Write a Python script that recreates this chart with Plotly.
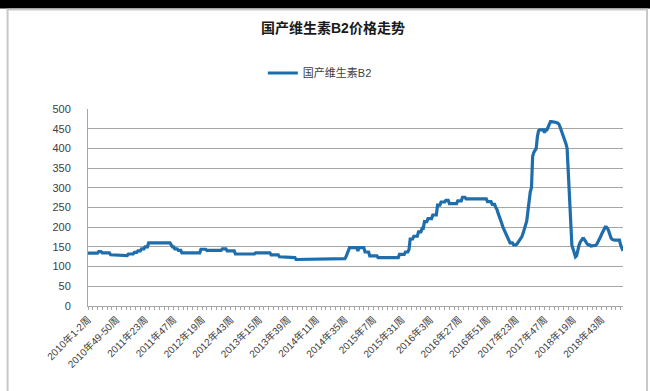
import plotly.graph_objects as go

# Weekly domestic vitamin B2 price, one value per week from 2010 week 1-2 onward
prices = [
    134, 134, 134, 134, 134, 134, 134, 134, 134, 138, 138, 138, 135, 135, 135, 135, 135, 135, 135, 130, 130, 130, 128, 128,
    128, 128, 128, 128, 128, 128, 128, 128, 128, 128, 132, 132, 132, 132, 132, 136, 136, 136, 140, 140, 140, 145, 145, 145,
    150, 150, 150, 160, 160, 160, 160, 160, 160, 160, 160, 160, 160, 160, 160, 160, 160, 160, 160, 160, 160, 160, 155, 150,
    150, 145, 145, 145, 141, 141, 141, 135, 135, 135, 135, 135, 135, 135, 135, 135, 135, 135, 135, 135, 135, 135, 135, 144,
    144, 144, 144, 144, 141, 141, 141, 141, 141, 141, 141, 141, 141, 141, 141, 141, 141, 145, 145, 145, 145, 140, 140, 140,
    140, 140, 140, 140, 132, 132, 132, 132, 132, 132, 132, 132, 132, 132, 132, 132, 132, 132, 132, 132, 132, 135, 135, 135,
    135, 135, 135, 135, 135, 135, 135, 135, 135, 135, 130, 130, 130, 130, 130, 130, 130, 125, 125, 125, 125, 125, 125, 125,
    125, 125, 125, 123, 123, 123, 123, 118, 118, 118, 118, 118, 118, 120, 120, 120, 120, 120, 120, 120, 120, 120, 120, 120,
    120, 120, 120, 120, 120, 120, 120, 120, 120, 120, 120, 120, 120, 120, 120, 120, 120, 120, 120, 120, 120, 120, 120, 120,
    120, 125, 135, 145, 148, 148, 148, 148, 148, 148, 148, 140, 148, 148, 148, 148, 148, 137, 137, 137, 137, 127, 127, 127,
    127, 127, 127, 127, 123, 123, 123, 123, 123, 123, 123, 123, 123, 123, 123, 123, 123, 123, 123, 123, 123, 123, 131, 131,
    131, 131, 131, 137, 137, 137, 143, 170, 170, 170, 177, 177, 177, 177, 188, 188, 188, 197, 197, 214, 214, 214, 222, 222,
    222, 222, 231, 231, 231, 231, 256, 256, 256, 264, 264, 264, 264, 268, 268, 268, 260, 260, 260, 260, 260, 260, 260, 267,
    267, 267, 267, 276, 276, 276, 272, 272, 272, 272, 272, 272, 272, 272, 272, 272, 272, 272, 272, 272, 272, 272, 272, 272,
    265, 265, 265, 265, 258, 258, 258, 250, 245, 235, 228, 220, 210, 200, 193, 185, 176, 170, 165, 160, 160, 160, 155, 155,
    155, 158, 162, 165, 170, 176, 185, 195, 205, 215, 240, 277, 290, 300, 380, 390, 395, 400, 430, 445, 447, 447, 447, 447,
    440, 447, 447, 455, 464, 468, 468, 468, 468, 466, 466, 464, 462, 455, 447, 440, 430, 420, 412, 400, 340, 286, 210, 154,
    145, 133, 125, 128, 145, 154, 162, 167, 171, 171, 165, 159, 157, 155, 155, 152, 152, 152, 153, 154, 157, 162, 167, 175,
    182, 188, 195, 200, 200, 197, 190, 180, 172, 169, 167, 167, 167, 167, 167, 167, 155, 148, 140,
]

# Category labels shown every 24 weeks
tick_labels = [
    "2010年1-2周", "2010年49-50周", "2011年23周", "2011年47周", "2012年19周",
    "2012年43周", "2013年15周", "2013年39周", "2014年11周", "2014年35周",
    "2015年7周", "2015年31周", "2016年3周", "2016年27周", "2016年51周",
    "2017年23周", "2017年47周", "2018年19周", "2018年43周",
]
label_step = 24

series_name = "国产维生素B2"
title_text = "国产维生素B2价格走势"

FONT = "Liberation Sans, Arial, Noto Sans CJK SC, sans-serif"
LINE_BLUE = "#1f6eab"
TEXT_GREY = "#404040"
GRID_GREY = "#a6a6a6"

week_index = list(range(len(prices)))
tick_positions = [i * label_step for i in range(len(tick_labels))]

W, H = 650, 391
ML, MR, MT, MB = 88, 26.5, 109, 85
PW = W - ML - MR
PH = H - MT - MB


def px_x(x):
    return (x - ML) / PW


def px_y(y):
    return (H - MB - y) / PH


fig = go.Figure()
fig.add_trace(go.Scatter(
    x=week_index,
    y=prices,
    mode="lines",
    name=series_name,
    line=dict(color=LINE_BLUE, width=3.2),
    hoverinfo="skip",
))

fig.update_layout(
    width=W,
    height=H,
    margin=dict(l=ML, r=MR, t=MT, b=MB),
    # dark page edge; the white card is painted over it as a shape
    paper_bgcolor="black",
    plot_bgcolor="white",
    font=dict(family=FONT, color=TEXT_GREY, size=11),
    showlegend=True,
    legend=dict(
        orientation="h",
        x=px_x(263), xanchor="left",
        y=px_y(73), yanchor="middle",
        font=dict(size=11, color=TEXT_GREY),
        bgcolor="rgba(0,0,0,0)",
        itemwidth=30,
    ),
    xaxis=dict(
        range=[0, len(prices) - 1],
        tickmode="array",
        tickvals=tick_positions,
        ticktext=tick_labels,
        tickangle=-45,
        tickfont=dict(size=10, color=TEXT_GREY),
        showgrid=False,
        zeroline=False,
        showline=True,
        linecolor=GRID_GREY,
        linewidth=1,
        ticks="outside",
        ticklen=3,
        tickcolor=GRID_GREY,
        minor=dict(dtick=4, tick0=0, ticks="outside", ticklen=3, tickcolor=GRID_GREY),
    ),
    yaxis=dict(
        range=[0, 500],
        dtick=50,
        tickfont=dict(size=11, color=TEXT_GREY),
        showgrid=True,
        gridcolor=GRID_GREY,
        gridwidth=1,
        zeroline=False,
        showline=True,
        linecolor=GRID_GREY,
        linewidth=1,
        ticks="",
        ticklabelstandoff=14,
    ),
    annotations=[
        dict(
            text="<b>" + title_text + "</b>",
            x=px_x(333), y=px_y(28),
            xref="paper", yref="paper",
            xanchor="center", yanchor="middle",
            showarrow=False,
            font=dict(size=14, color="#1a1a1a", family=FONT),
        )
    ],
    shapes=[
        # white card below the dark top strip
        dict(type="rect", xref="paper", yref="paper",
             x0=px_x(-10), x1=px_x(W + 10), y0=px_y(H + 10), y1=px_y(8.5),
             fillcolor="white", line=dict(width=0), layer="below"),
        # light grey chart frame
        dict(type="rect", xref="paper", yref="paper",
             x0=px_x(7.5), x1=px_x(647.5), y0=px_y(400), y1=px_y(9.5),
             fillcolor="rgba(0,0,0,0)", line=dict(color="#c8c8c8", width=2), layer="below"),
    ],
)

fig.write_html("out.html")
